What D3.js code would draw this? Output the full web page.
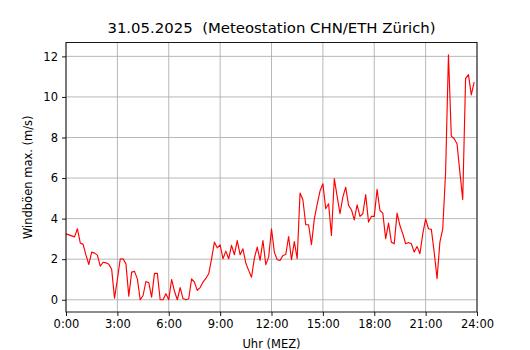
<!DOCTYPE html>
<html>
<head>
<meta charset="utf-8">
<script src="https://cdn.jsdelivr.net/npm/d3@7"></script>
<style>
  html, body { margin: 0; padding: 0; background: #fff; }
  svg { display: block; font-family: "DejaVu Sans", sans-serif; }
</style>
</head>
<body>
<svg id="chart" width="530" height="350"></svg>
<script>
// ---- data ----
const titleText = "31.05.2025  (Meteostation CHN/ETH Zürich)";
const xLabel = "Uhr (MEZ)";
const yLabel = "Windböen max. (m/s)";
const stepMinutes = 10; // one reading every 10 minutes, starting 0:00
const gustValues = [
  3.25, 3.2, 3.15, 3.1, 3.5, 2.8, 2.73, 2.2, 1.74, 2.35,
  2.3, 2.2, 1.66, 1.85, 1.82, 1.75, 1.5, 0.08, 1.0, 2.0,
  2.02, 1.77, 0.18, 1.36, 1.4, 1.03, 0.0, 0.21, 0.9, 0.84,
  0.13, 1.3, 1.3, 0.0, 0.0, 0.3, 0.0, 1.0, 0.42, 0.0,
  0.6, 0.06, 0.0, 0.05, 1.03, 0.87, 0.46, 0.6, 0.87, 1.05,
  1.28, 2.02, 2.84, 2.56, 2.71, 2.02, 2.4, 2.02, 2.68, 2.22,
  2.92, 2.22, 2.51, 1.8, 1.45, 1.11, 2.05, 2.6, 1.94, 2.92,
  1.73, 2.1, 3.5, 2.35, 1.97, 1.94, 2.18, 2.23, 3.12, 1.97,
  2.87, 2.02, 5.26, 4.93, 3.7, 3.7, 2.71, 3.99, 4.7, 5.36,
  5.72, 4.49, 4.73, 3.17, 5.97, 5.1, 4.24, 5.06, 5.55, 4.65,
  4.44, 3.94, 4.68, 4.11, 4.24, 5.18, 3.83, 4.11, 4.11, 5.44,
  4.4, 4.27, 3.01, 3.78, 2.84, 2.76, 4.27, 3.66, 3.25, 2.76,
  2.82, 2.76, 2.35, 2.63, 2.27, 3.25, 3.99, 3.5, 3.47, 2.35,
  1.04, 2.84, 3.5, 6.29, 12.08, 8.07, 7.94, 7.69, 6.29, 4.95,
  10.9, 11.1, 10.1, 10.73
];
const xTickMinutes = [0, 180, 360, 540, 720, 900, 1080, 1260, 1440];
const xTickLabels = ["0:00", "3:00", "6:00", "9:00", "12:00", "15:00", "18:00", "21:00", "24:00"];
const yTicks = [0, 2, 4, 6, 8, 10, 12];

// ---- layout ----
const W = 530, H = 350;
const plot = { left: 66, right: 477, top: 42.5, bottom: 312 };
const tickFont = 11.5;

const svg = d3.select("#chart");

const points = gustValues.map((v, i) => ({ t: i * stepMinutes, v }));

const x = d3.scaleLinear().domain([0, 1440]).range([plot.left, plot.right]);
const vMin = d3.min(gustValues), vMax = d3.max(gustValues);
const pad = (vMax - vMin) * 0.05;
const y = d3.scaleLinear().domain([vMin - pad, vMax + pad]).range([plot.bottom, plot.top]);

// grid
const grid = svg.append("g");
grid.selectAll("line.vx").data(xTickMinutes).enter().append("line")
  .attr("x1", d => x(d)).attr("x2", d => x(d))
  .attr("y1", plot.top).attr("y2", plot.bottom)
  .attr("stroke", "#b0b0b0").attr("stroke-width", 0.9);
grid.selectAll("line.hy").data(yTicks).enter().append("line")
  .attr("x1", plot.left).attr("x2", plot.right)
  .attr("y1", d => y(d)).attr("y2", d => y(d))
  .attr("stroke", "#b0b0b0").attr("stroke-width", 0.9);

// line
const line = d3.line().x(d => x(d.t)).y(d => y(d.v));
svg.append("path").datum(points)
  .attr("d", line)
  .attr("fill", "none")
  .attr("stroke", "#ff0000")
  .attr("stroke-width", 1.15)
  .attr("stroke-linejoin", "round");

// axes
const xAxis = d3.axisBottom(x).tickValues(xTickMinutes)
  .tickFormat((d, i) => xTickLabels[i]).tickSize(4).tickPadding(4);
const gx = svg.append("g").attr("transform", `translate(0,${plot.bottom})`).call(xAxis);
const yAxis = d3.axisLeft(y).tickValues(yTicks).tickFormat(d3.format("d")).tickSize(4).tickPadding(4);
const gy = svg.append("g").attr("transform", `translate(${plot.left},0)`).call(yAxis);
[gx, gy].forEach(g => {
  g.select(".domain").remove();
  g.selectAll("text").attr("font-size", tickFont).attr("fill", "#000")
    .attr("font-family", "DejaVu Sans, sans-serif");
  g.selectAll("line").attr("stroke", "#000").attr("stroke-width", 0.9);
});

// frame
svg.append("rect")
  .attr("x", plot.left).attr("y", plot.top)
  .attr("width", plot.right - plot.left).attr("height", plot.bottom - plot.top)
  .attr("fill", "none").attr("stroke", "#000").attr("stroke-width", 0.9);

// title (keep the double space)
svg.append("text")
  .attr("x", (plot.left + plot.right) / 2).attr("y", 33.3)
  .attr("text-anchor", "middle").attr("font-size", 14.9).attr("fill", "#000")
  .style("white-space", "pre")
  .attr("xml:space", "preserve")
  .text(titleText);

// axis labels
svg.append("text")
  .attr("x", (plot.left + plot.right) / 2).attr("y", 348)
  .attr("text-anchor", "middle").attr("font-size", tickFont).attr("fill", "#000")
  .text(xLabel);
svg.append("text")
  .attr("transform", `translate(32,${(plot.top + plot.bottom) / 2}) rotate(-90)`)
  .attr("text-anchor", "middle").attr("font-size", tickFont).attr("fill", "#000")
  .text(yLabel);
</script>
</body>
</html>
